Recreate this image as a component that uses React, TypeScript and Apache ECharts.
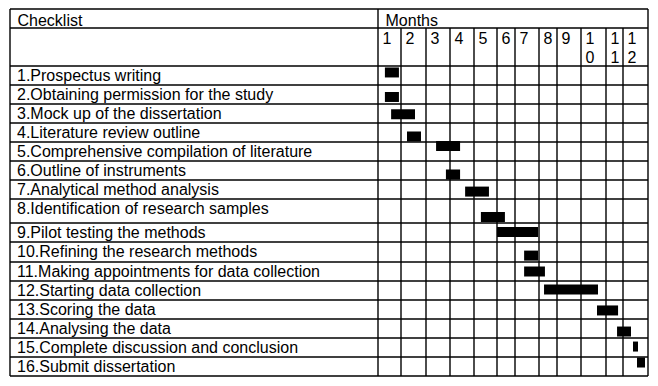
import React, { useEffect, useRef } from "react";
import * as echarts from "echarts";

// ---------- data ----------
const headerTitle = "Checklist";
const monthsTitle = "Months";
const monthLabels = ["1", "2", "3", "4", "5", "6", "7", "8", "9", "10", "11", "12"];
const tasks = [
  "1.Prospectus writing",
  "2.Obtaining permission for the study",
  "3.Mock up of the dissertation",
  "4.Literature review outline",
  "5.Comprehensive compilation of literature",
  "6.Outline of instruments",
  "7.Analytical method analysis",
  "8.Identification of research samples",
  "9.Pilot testing the methods",
  "10.Refining the research methods",
  "11.Making appointments for data collection",
  "12.Starting data collection",
  "13.Scoring the data",
  "14.Analysing the data",
  "15.Complete discussion and conclusion",
  "16.Submit dissertation",
];
// start / end of each task, in months from the start (0 = beginning of month 1)
const taskStart = [0.3, 0.3, 0.57, 1.24, 2.42, 2.83, 3.63, 4.3, 5.0, 6.38, 6.38, 7.28, 9.64, 10.65, 11.4, 11.56];
const taskEnd = [0.91, 0.91, 1.56, 1.8, 3.42, 3.42, 4.65, 5.44, 6.96, 6.96, 7.33, 9.68, 10.71, 11.32, 11.6, 11.88];
// vertical place of each bar inside its row (0 = top of row, 1 = bottom)
const taskRowPos = [0.34, 0.63, 0.54, 0.71, 0.21, 0.71, 0.61, 0.75, 0.47, 0.68, 0.5, 0.45, 0.55, 0.66, 0.45, 0.29];

// ---------- layout ----------
const LABEL_COL_W = 368;
const MONTH_COL_W = [23, 25, 24, 24, 23, 18, 24, 18, 24, 25, 17, 25];
const TITLE_ROW_H = 19;
const MONTH_ROW_H = 38;
const TASK_ROW_H = [19, 19, 19, 19, 19, 19, 19, 24, 19, 20, 19, 19, 19, 19, 19, 19];
const BAR_H = 10;
const FONT = "'Liberation Sans', Arial, sans-serif";
const FONT_SIZE = 16;
const LINE_W = 1.4;

const colEdges: number[] = [LABEL_COL_W];
MONTH_COL_W.forEach((w) => colEdges.push(colEdges[colEdges.length - 1] + w));
const rowEdges: number[] = [TITLE_ROW_H + MONTH_ROW_H];
TASK_ROW_H.forEach((h) => rowEdges.push(rowEdges[rowEdges.length - 1] + h));
const TABLE_W = colEdges[colEdges.length - 1];
const TABLE_H = rowEdges[rowEdges.length - 1];

const monthX = (m: number) => {
  const i = Math.max(0, Math.min(Math.floor(m), MONTH_COL_W.length - 1));
  return colEdges[i] + (m - i) * MONTH_COL_W[i];
};
const rowY = (r: number, p: number) => rowEdges[r] + p * TASK_ROW_H[r];

function textEl(x: number, y: number, text: string, lineHeight = 19) {
  return {
    type: "text",
    x,
    y,
    style: {
      text,
      fill: "#000",
      fontSize: FONT_SIZE,
      fontFamily: FONT,
      align: "left",
      verticalAlign: "top",
      lineHeight,
    },
  };
}

function lineEl(p0: number[], p1: number[]) {
  return {
    type: "line",
    shape: { x1: p0[0], y1: p0[1], x2: p1[0], y2: p1[1] },
    style: { stroke: "#000", lineWidth: LINE_W },
  };
}

export default function App() {
  const ref = useRef<HTMLDivElement>(null);
  useEffect(() => {
    if (!ref.current) return;
    const chart = echarts.init(ref.current, undefined, { renderer: "svg" });
    const option: any = {
      animation: false,
      backgroundColor: "#fff",
      grid: { left: 10, top: 9, width: TABLE_W, height: TABLE_H },
      xAxis: { type: "value", min: 0, max: TABLE_W, show: false },
      yAxis: { type: "value", min: 0, max: TABLE_H, inverse: true, show: false },
      series: [
        {
          // table frame and header texts
          type: "custom",
          silent: true,
          data: [[0, 0]],
          renderItem: (params: any, api: any) => {
            const c = (x: number, y: number) => api.coord([x, y]);
            const children: any[] = [];
            // horizontal lines
            const hs = [0, TITLE_ROW_H, ...rowEdges];
            hs.forEach((y) => children.push(lineEl(c(0, y), c(TABLE_W, y))));
            // vertical lines
            children.push(lineEl(c(0, 0), c(0, TABLE_H)));
            children.push(lineEl(c(LABEL_COL_W, 0), c(LABEL_COL_W, TABLE_H)));
            colEdges.slice(1).forEach((x, i) => {
              const top = i === colEdges.length - 2 ? 0 : TITLE_ROW_H;
              children.push(lineEl(c(x, top), c(x, TABLE_H)));
            });
            // header texts
            const h1 = c(7.5, 1.5);
            children.push(textEl(h1[0], h1[1], headerTitle));
            const h2 = c(LABEL_COL_W + 7.5, 1.5);
            children.push(textEl(h2[0], h2[1], monthsTitle));
            monthLabels.forEach((lab, i) => {
              const p = c(colEdges[i] + 4.5, TITLE_ROW_H + 0.5);
              children.push(textEl(p[0], p[1], lab.length > 1 ? lab.split("").join("\n") : lab));
            });
            return { type: "group", children };
          },
        },
        {
          // task labels
          type: "custom",
          silent: true,
          data: tasks.map((_, i) => [0, i]),
          renderItem: (params: any, api: any) => {
            const i = api.value(1);
            const p = api.coord([7, rowEdges[i] - 0.3]);
            return textEl(p[0], p[1], tasks[i]);
          },
        },
        {
          // gantt bars
          type: "custom",
          silent: true,
          data: tasks.map((_, i) => [taskStart[i], taskEnd[i], i, taskRowPos[i]]),
          renderItem: (params: any, api: any) => {
            const s = api.value(0);
            const e = api.value(1);
            const r = api.value(2);
            const p = api.value(3);
            const y = rowY(r, p);
            const a = api.coord([monthX(s), y]);
            const b = api.coord([monthX(e), y]);
            return {
              type: "rect",
              shape: { x: a[0], y: a[1] - BAR_H / 2, width: b[0] - a[0], height: BAR_H },
              style: { fill: "#000" },
            };
          },
        },
      ],
    };
    chart.setOption(option);
    return () => chart.dispose();
  }, []);
  return (
    <div
      ref={ref}
      style={{ position: "absolute", left: 0, top: 0, width: 658, height: 386, background: "#fff" }}
    />
  );
}
